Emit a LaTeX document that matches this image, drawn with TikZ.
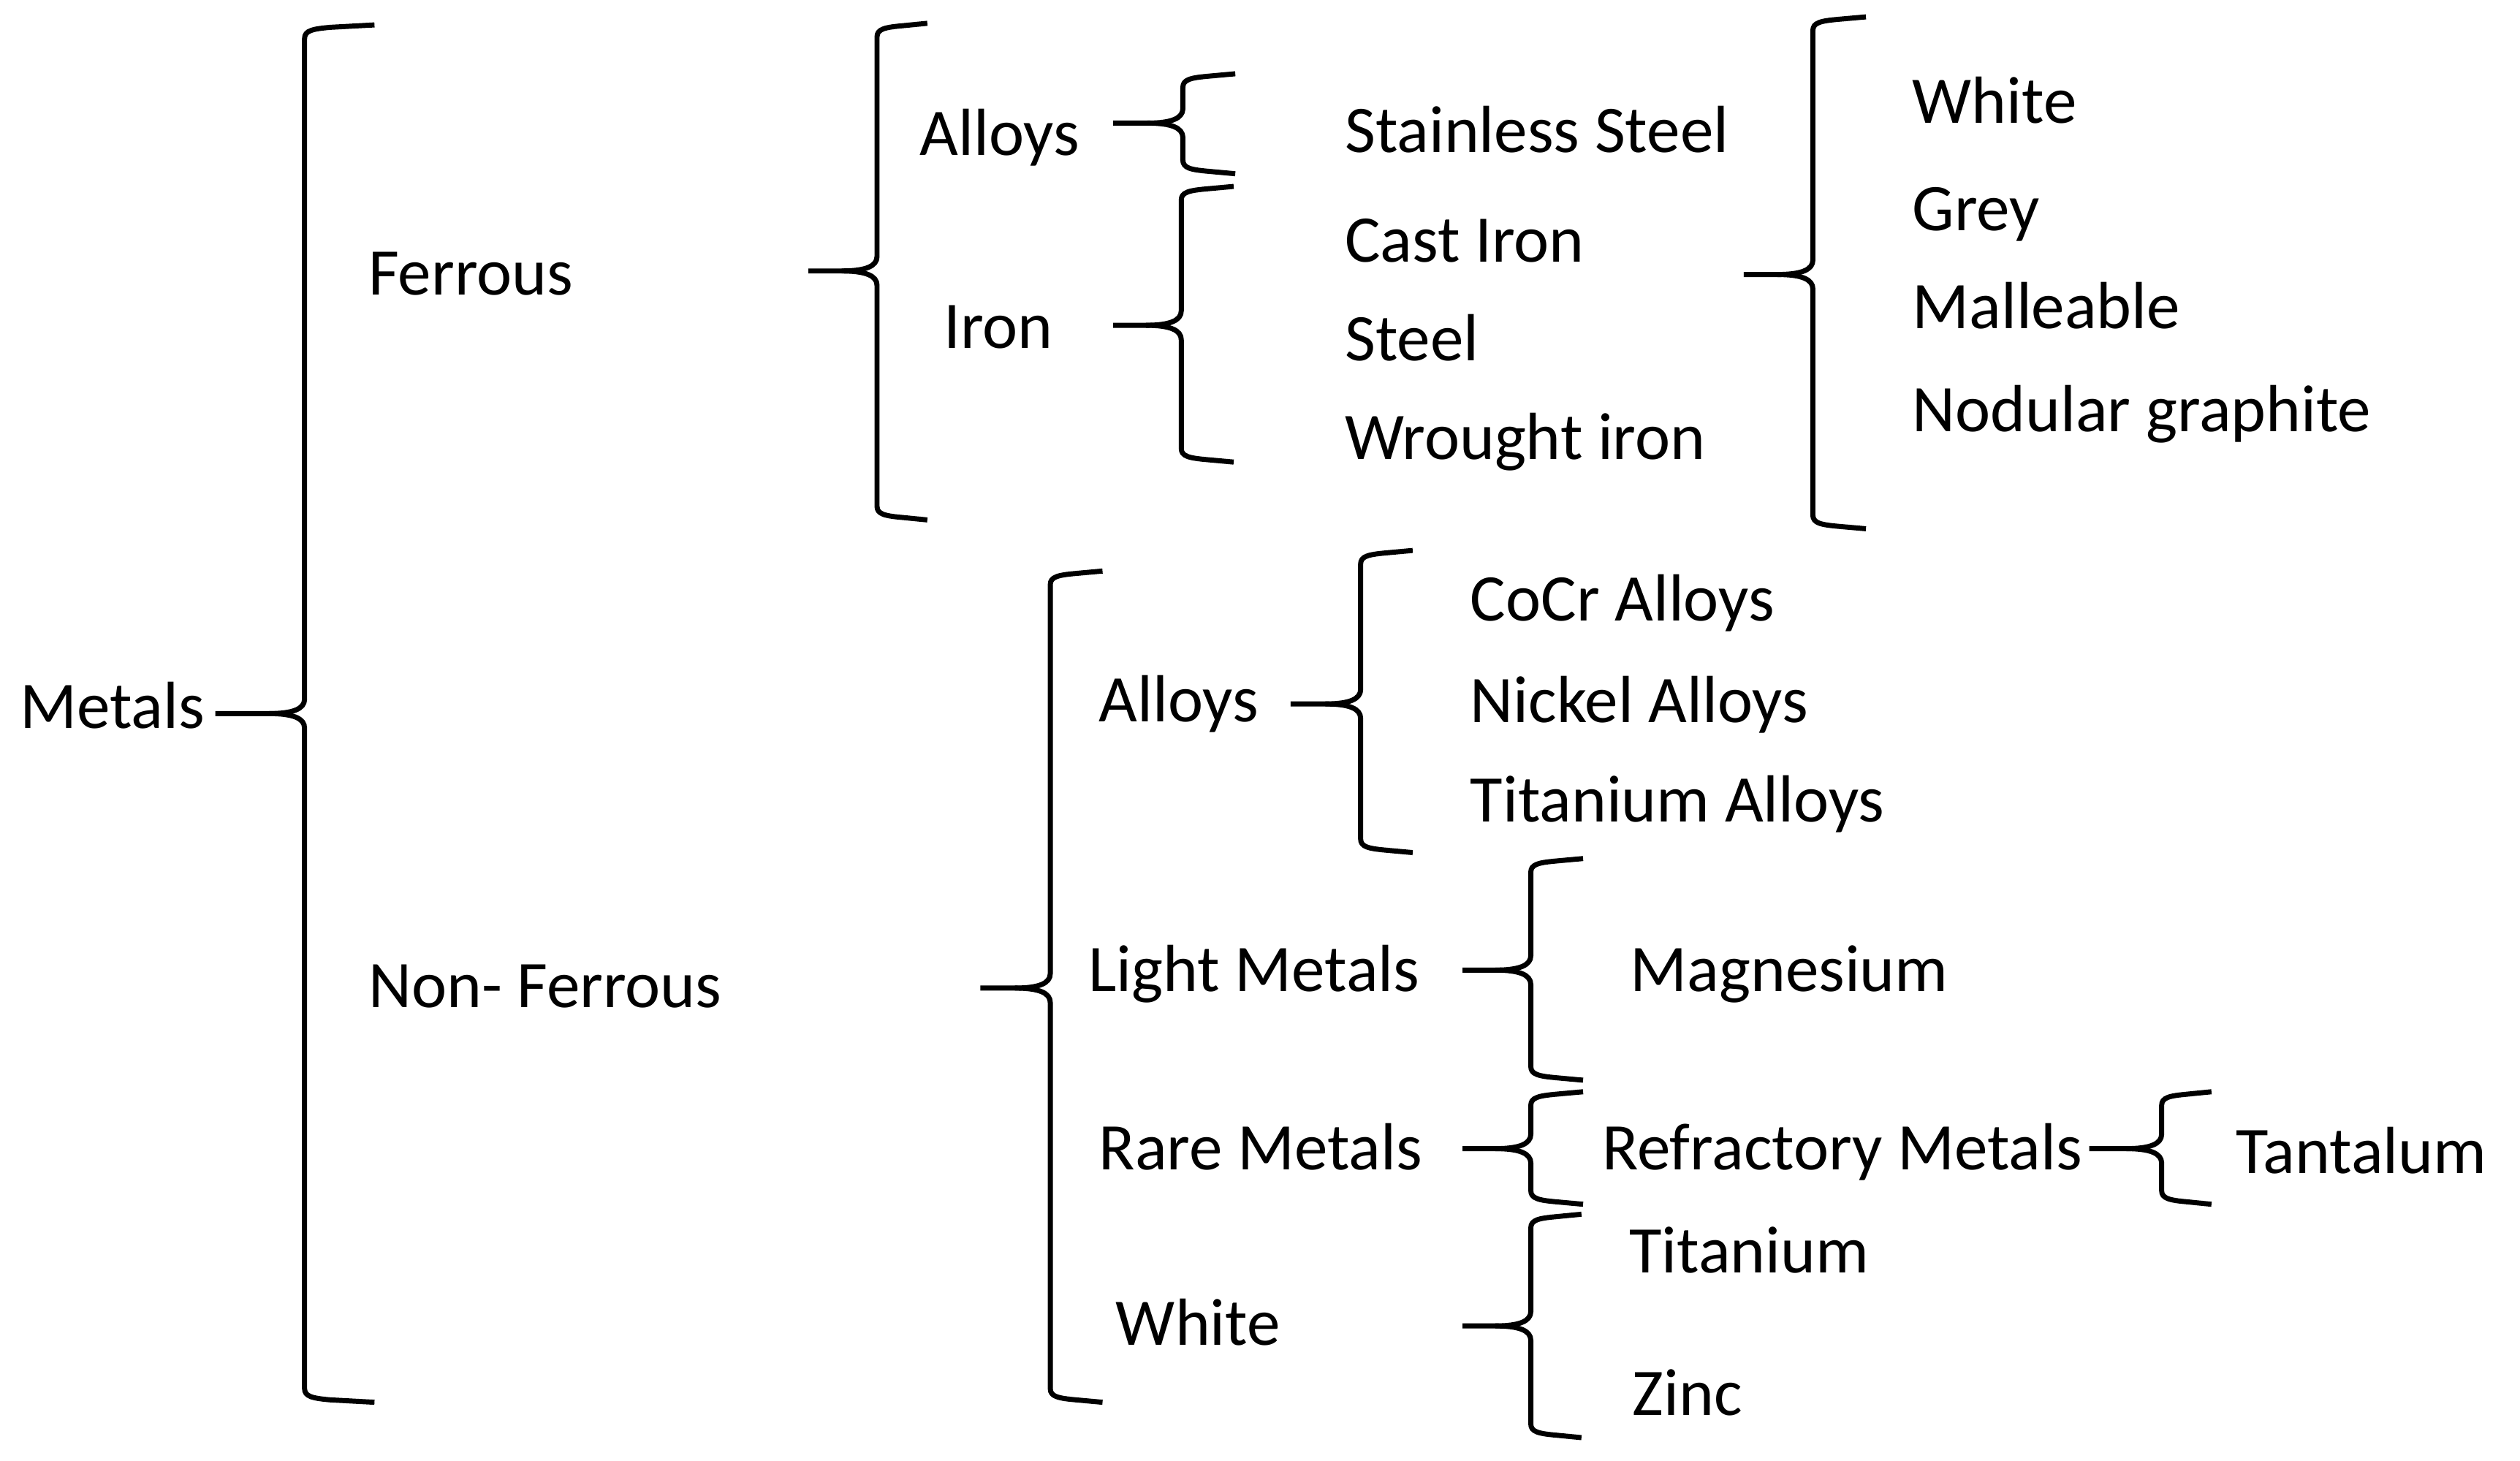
\documentclass[tikz,border=0pt]{standalone}
\usepackage{fontspec}
\setmainfont{Carlito}
\usepackage{tikz}
\usetikzlibrary{positioning}

% curly bracket: tip x, spine x, end x, top y, middle y, bottom y
\newcommand{\curly}[6]{%
  \draw[brk] (#1,#5) -- ({#2-22},#5) .. controls ({#2-7},#5) and (#2,{#5-3}) .. (#2,{#5-9})
    -- (#2,{#4+7}) .. controls (#2,{#4+2}) and ({#2+5},{#4+1}) .. ({#2+16},#4) -- (#3,{#4-1.5});
  \draw[brk] ({#2-22},#5) .. controls ({#2-7},#5) and (#2,{#5+3}) .. (#2,{#5+9})
    -- (#2,{#6-7}) .. controls (#2,{#6-2}) and ({#2+5},{#6-1}) .. ({#2+16},#6) -- (#3,{#6+1.5});
}

\begin{document}
\begin{tikzpicture}[
  x=0.02cm, y=-0.02cm,
  every node/.style={font=\fontsize{23.6}{28}\selectfont, anchor=base west, inner sep=0pt},
  brk/.style={line width=1.8pt, line join=round}
]
\useasboundingbox (0,0) rectangle (1568,909);

% first level
\node (metals) at (12,453) {Metals};
\node (ferrous) at (229,183.5) {Ferrous};
\node (nonferrous) at (229,627) {Non- Ferrous};

% ferrous side
\node (falloys) at (572,96.5) {Alloys};
\node (iron) at (587,216.5) {Iron};
\node (stainless) at (836.5,95) {Stainless Steel};
\node (castiron) at (836.5,163) {Cast Iron};
\node (steel) at (836.5,224.5) {Steel};
\node (wrought) at (836.5,286) {Wrought iron};
\node (white) at (1189.5,76.5) {White};
\node (grey) at (1189.5,143.5) {Grey};
\node (malleable) at (1189.5,204.5) {Malleable};
\node (nodular) at (1189.5,268.5) {Nodular graphite};

% non-ferrous side
\node (nfalloys) at (683.5,449) {Alloys};
\node (light) at (677,617) {Light Metals};
\node (rare) at (683.5,728) {Rare Metals};
\node (nfwhite) at (694,837) {White};
\node (cocr) at (914.5,386.5) {CoCr Alloys};
\node (nickel) at (914.5,449.5) {Nickel Alloys};
\node (tialloys) at (914.5,511.5) {Titanium Alloys};
\node (magnesium) at (1014,617) {Magnesium};
\node (refractory) at (996.5,728) {Refractory Metals};
\node (tantalum) at (1391,730) {Tantalum};
\node (titanium) at (1013.5,792) {Titanium};
\node (zinc) at (1015.5,880.5) {Zinc};

% brackets
\curly{134}{189.5}{233}{17}{444}{871}
\curly{503}{545.7}{577}{16}{168.6}{322}
\curly{692.6}{736}{768.6}{47.4}{76.6}{106.6}
\curly{692.6}{735}{767.6}{117.5}{202.4}{286}
\curly{1085}{1128}{1161}{12}{170.8}{327.5}
\curly{610}{653.5}{686}{356.8}{614.8}{871}
\curly{803}{846.6}{879}{344}{438}{529}
\curly{910}{952.5}{985}{535.7}{603.6}{670.6}
\curly{910}{952.5}{985}{680.8}{714.7}{747.8}
\curly{1300}{1345}{1376}{680.8}{714.7}{747.8}
\curly{910}{952.5}{984}{757}{825}{893}

\end{tikzpicture}
\end{document}
